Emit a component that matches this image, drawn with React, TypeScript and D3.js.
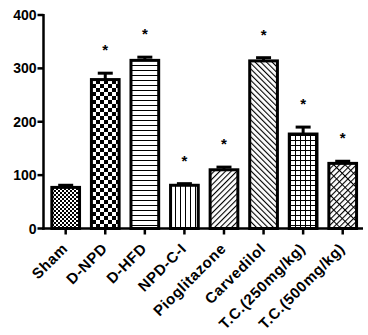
import React from "react";
import * as d3 from "d3";

const categories = ["Sham", "D-NPD", "D-HFD", "NPD-C-I", "Pioglitazone", "Carvedilol", "T.C.(250mg/kg)", "T.C.(500mg/kg)"];
const means = [77, 279, 315, 81, 110, 314, 177, 122];
const errors = [4, 12, 6, 3, 5, 6, 13, 4];
const significant = [false, true, true, true, true, true, true, true];
const yTicks = [0, 100, 200, 300, 400];
const patternIds = ["pSham", "pNPD", "pHFD", "pCI", "pPio", "pCarv", "pTC250", "pTC500"];

const W = 368, H = 335;

export default function App() {
  const x = d3.scaleBand<string>().domain(categories).range([45.9, 362.5]).paddingInner(0.3).paddingOuter(0.15);
  const y = d3.scaleLinear().domain([0, 400]).range([228.5, 15]);
  const axisX = 43.5;
  const font = "Arial, 'Liberation Sans', sans-serif";
  const bw = x.bandwidth();

  return (
    <svg width={W} height={H} style={{ position: "absolute", left: 0, top: 0, background: "#fff" }}>
      <defs>
        <pattern id="pSham" width="4" height="4" patternUnits="userSpaceOnUse">
          <rect width="4" height="4" fill="#fff" />
          <rect x="0" y="0" width="2" height="2" fill="#000" />
          <rect x="2" y="2" width="2" height="2" fill="#000" />
        </pattern>
        <pattern id="pNPD" width="8" height="8" patternUnits="userSpaceOnUse">
          <rect width="8" height="8" fill="#fff" />
          <rect x="0" y="0" width="4" height="4" fill="#000" />
          <rect x="4" y="4" width="4" height="4" fill="#000" />
        </pattern>
        <pattern id="pHFD" width="5" height="5" patternUnits="userSpaceOnUse">
          <rect width="5" height="5" fill="#fff" />
          <rect x="0" y="0" width="5" height="1" fill="#000" />
        </pattern>
        <pattern id="pCI" width="5" height="5" patternUnits="userSpaceOnUse">
          <rect width="5" height="5" fill="#fff" />
          <rect x="0" y="0" width="1" height="5" fill="#000" />
        </pattern>
        <pattern id="pPio" width="4" height="4" patternUnits="userSpaceOnUse" patternTransform="rotate(45)">
          <rect width="4" height="4" fill="#fff" />
          <rect x="0" y="0" width="1.1" height="4" fill="#000" />
        </pattern>
        <pattern id="pCarv" width="4" height="4" patternUnits="userSpaceOnUse" patternTransform="rotate(-45)">
          <rect width="4" height="4" fill="#fff" />
          <rect x="0" y="0" width="1.1" height="4" fill="#000" />
        </pattern>
        <pattern id="pTC250" width="5" height="5" patternUnits="userSpaceOnUse">
          <rect width="5" height="5" fill="#fff" />
          <rect x="0" y="0" width="5" height="1" fill="#000" />
          <rect x="0" y="0" width="1" height="5" fill="#000" />
        </pattern>
        <pattern id="pTC500" width="8" height="8" patternUnits="userSpaceOnUse" patternTransform="rotate(45)">
          <rect width="8" height="8" fill="#fff" />
          <rect x="0" y="0" width="1.1" height="8" fill="#000" />
          <rect x="4" y="0" width="1.1" height="8" fill="#000" />
          <rect x="0" y="0" width="8" height="1" fill="#000" />
        </pattern>
      </defs>

      {/* bars */}
      {categories.map((c, i) => {
        const x0 = x(c)!;
        const cx = x0 + bw / 2;
        const top = y(means[i]);
        const capY = y(means[i] + errors[i]);
        return (
          <g key={c}>
            <line x1={cx} x2={cx} y1={top} y2={capY} stroke="#000" strokeWidth={3} />
            <line x1={cx - 7.5} x2={cx + 7.5} y1={capY} y2={capY} stroke="#000" strokeWidth={3} />
            <rect x={x0} y={top} width={bw} height={y(0) - top} fill={`url(#${patternIds[i]})`} stroke="#000" strokeWidth={3} />
            {significant[i] && (
              <text x={cx} y={capY - 18} textAnchor="middle" fontFamily={font} fontWeight="bold" fontSize={15} fill="#000">*</text>
            )}
          </g>
        );
      })}

      {/* y axis */}
      <line x1={axisX} x2={axisX} y1={y(400) - 1} y2={y(0) + 1.25} stroke="#000" strokeWidth={2.5} />
      {yTicks.map((t) => (
        <g key={t}>
          <line x1={axisX - 6} x2={axisX} y1={y(t)} y2={y(t)} stroke="#000" strokeWidth={2.5} />
          <text x={axisX - 7} y={y(t)} dy="0.36em" textAnchor="end" fontFamily={font} fontWeight="bold" fontSize={14} fill="#000">{t}</text>
        </g>
      ))}

      {/* x axis */}
      <line x1={axisX - 1.25} x2={363} y1={y(0)} y2={y(0)} stroke="#000" strokeWidth={2.5} />
      {categories.map((c) => {
        const cx = x(c)! + bw / 2;
        return (
          <g key={c}>
            <line x1={cx} x2={cx} y1={y(0)} y2={y(0) + 6} stroke="#000" strokeWidth={2.5} />
            <text transform={`translate(${cx + 3},${y(0) + 21}) rotate(-45)`} textAnchor="end" fontFamily={font} fontWeight="bold" fontSize={15} letterSpacing={0.6} fill="#000">{c}</text>
          </g>
        );
      })}
    </svg>
  );
}
